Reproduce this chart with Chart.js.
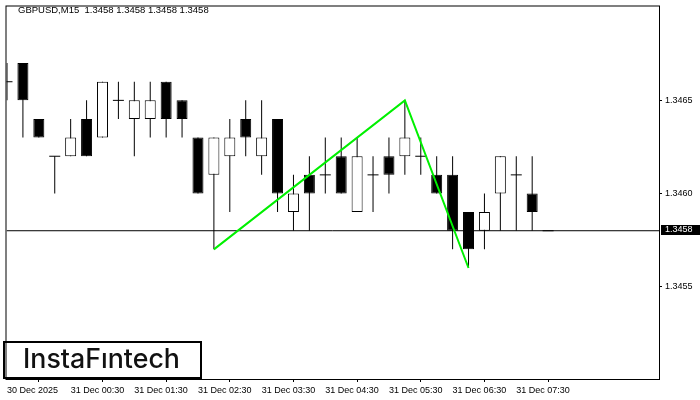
<!DOCTYPE html>
<html>
<head>
<meta charset="utf-8">
<title>GBPUSD M15</title>
<script src="https://cdn.jsdelivr.net/npm/chart.js@4.4.1/dist/chart.umd.min.js"></script>
<style>
  html, body { margin: 0; padding: 0; background: #fff; }
  #chart { display: block; }
</style>
</head>
<body>
<canvas id="chart" width="700" height="400"></canvas>
<script>
// 15 minute bars, bar 0 = 30 Dec 23:30
const symbol = "GBPUSD,M15";
const opens  = [1.3466, 1.3467, 1.3464, 1.3462, 1.3462, 1.3464, 1.3463, 1.3465, 1.3464, 1.3464, 1.3466, 1.3465,
                1.3463, 1.3461, 1.3462, 1.3464, 1.3462, 1.3464, 1.3459, 1.3461, 1.3461, 1.3462, 1.3459, 1.3461,
                1.3462, 1.3462, 1.3462, 1.3461, 1.3461, 1.3459, 1.3458, 1.3460, 1.3461, 1.3460, 1.3458];
const highs  = [1.3467, 1.3467, 1.3464, 1.3462, 1.3464, 1.3465, 1.3466, 1.3466, 1.3466, 1.3466, 1.3466, 1.3465,
                1.3463, 1.3463, 1.3464, 1.3465, 1.3465, 1.3464, 1.3461, 1.3462, 1.3463, 1.3463, 1.3463, 1.3462,
                1.3463, 1.3465, 1.3463, 1.3462, 1.3462, 1.3459, 1.3460, 1.3462, 1.3462, 1.3462, 1.3458];
const lows   = [1.3465, 1.3463, 1.3463, 1.3460, 1.3462, 1.3462, 1.3463, 1.3464, 1.3462, 1.3463, 1.3463, 1.3463,
                1.3460, 1.3457, 1.3459, 1.3462, 1.3461, 1.3459, 1.3458, 1.3458, 1.3460, 1.3460, 1.3459, 1.3459,
                1.3460, 1.3461, 1.3461, 1.3460, 1.3457, 1.3456, 1.3457, 1.3458, 1.3458, 1.3458, 1.3458];
const closes = [1.3466, 1.3465, 1.3463, 1.3462, 1.3463, 1.3462, 1.3466, 1.3465, 1.3465, 1.3465, 1.3464, 1.3464,
                1.3460, 1.3463, 1.3463, 1.3463, 1.3463, 1.3460, 1.3460, 1.3460, 1.3461, 1.3460, 1.3462, 1.3461,
                1.3461, 1.3463, 1.3462, 1.3460, 1.3458, 1.3457, 1.3459, 1.3462, 1.3461, 1.3459, 1.3458];

const xTickIndex  = [0, 4, 8, 12, 16, 20, 24, 28, 32];
const xTickLabels = ["30 Dec 2025", "31 Dec 00:30", "31 Dec 01:30", "31 Dec 02:30", "31 Dec 03:30",
                     "31 Dec 04:30", "31 Dec 05:30", "31 Dec 06:30", "31 Dec 07:30"];
const yTicks = [1.3455, 1.3460, 1.3465];
const lastPrice = 1.3458;

// double top pattern line: bar index and price of each corner
const patternIndex  = [13, 25, 29];
const patternPrices = [1.3457, 1.3465, 1.3456];

const xMin = -0.03125, xMax = 40.96875;
const yMin = 1.345004, yMax = 1.347004;

const FONT = '"Liberation Sans", Arial, sans-serif';
Chart.defaults.font.family = FONT;
Chart.defaults.font.size = 9;
Chart.defaults.color = '#000';

const bodies = [], bodyColors = [], wicks = [], dojis = [];
opens.forEach((o, i) => {
  const c = closes[i];
  if (highs[i] > lows[i]) wicks.push({ x: i, y: [lows[i], highs[i]] });
  if (o === c) {
    dojis.push({ x: i, y: c });
  } else {
    bodies.push({ x: i, y: [Math.min(o, c), Math.max(o, c)] });
    bodyColors.push(c > o ? '#fff' : '#000');
  }
});

// keep the plot frame where it is, no extra room for half labels
function noPadding(s) {
  s.paddingTop = 0; s.paddingBottom = 0; s.paddingLeft = 0; s.paddingRight = 0;
}

const overlay = {
  id: 'overlay',
  afterDraw(chart) {
    const ctx = chart.ctx;
    const area = chart.chartArea;
    const py = chart.scales.y.getPixelForValue(lastPrice);
    ctx.save();

    // logo
    ctx.fillStyle = '#fff';
    ctx.fillRect(3, 341, 199, 38);
    ctx.strokeStyle = '#000';
    ctx.lineWidth = 2;
    ctx.strokeRect(4, 342, 197, 36);
    let size = 25;
    ctx.font = `500 ${size}px Inter, Lato, sans-serif`;
    size = size * 157 / ctx.measureText('InstaFıntech').width;
    ctx.font = `500 ${size}px Inter, Lato, sans-serif`;
    ctx.fillStyle = '#111';
    ctx.textAlign = 'center';
    ctx.textBaseline = 'alphabetic';
    ctx.fillText('InstaFıntech', 101.5, 368);

    // frame
    ctx.lineWidth = 1;
    ctx.strokeRect(area.left - 0.5, area.top - 0.5, area.right - area.left + 1, area.bottom - area.top + 1);

    // header
    ctx.font = '9.5px ' + FONT;
    ctx.textAlign = 'left';
    ctx.textBaseline = 'middle';
    ctx.fillStyle = '#000';
    const p = lastPrice.toFixed(4);
    ctx.fillText(`${symbol}  ${p} ${p} ${p} ${p}`, 18, 10.5);

    // last price tag on the axis
    ctx.font = '9px ' + FONT;
    ctx.fillRect(area.right + 2, Math.round(py) - 6, 39, 10);
    ctx.fillStyle = '#fff';
    ctx.fillText(p, area.right + 6, Math.round(py) - 1);
    ctx.restore();
  }
};

new Chart(document.getElementById('chart'), {
  type: 'bar',
  data: {
    datasets: [
      {
        type: 'line', order: 0, data: patternIndex.map((x, i) => ({ x, y: patternPrices[i] })),
        borderColor: '#00f000', borderWidth: 2, pointRadius: 0, tension: 0
      },
      {
        type: 'line', order: 1, data: [{ x: xMin, y: lastPrice }, { x: xMax, y: lastPrice }],
        borderColor: '#000', borderWidth: 1, pointRadius: 0
      },
      {
        type: 'line', order: 2, data: dojis, showLine: false,
        pointStyle: 'line', pointRadius: 5.5, pointBorderWidth: 1, pointBorderColor: '#000'
      },
      {
        order: 3, data: bodies, backgroundColor: bodyColors, borderColor: '#000', borderWidth: 1,
        borderSkipped: false, barThickness: 11, grouped: false, inflateAmount: 0
      },
      {
        order: 4, data: wicks, backgroundColor: '#000', borderWidth: 0,
        barThickness: 1, grouped: false, inflateAmount: 0
      }
    ]
  },
  options: {
    responsive: false,
    devicePixelRatio: 1,
    animation: false,
    events: [],
    layout: { padding: { top: 3, left: 3, right: 0, bottom: 0 } },
    plugins: { legend: { display: false }, tooltip: { enabled: false } },
    scales: {
      x: {
        type: 'linear', min: xMin, max: xMax, offset: false,
        border: { display: false },
        grid: { drawOnChartArea: false, tickLength: 3, color: '#000' },
        ticks: {
          align: 'start', autoSkip: false, maxRotation: 0, minRotation: 0, padding: 3,
          callback: (v, i) => xTickLabels[i]
        },
        afterBuildTicks: s => { s.ticks = xTickIndex.map(v => ({ value: v })); },
        afterFit: s => { s.height = 21; noPadding(s); }
      },
      y: {
        type: 'linear', position: 'right', min: yMin, max: yMax,
        border: { display: false },
        grid: { drawOnChartArea: false, tickLength: 3, color: '#000' },
        ticks: { padding: 3, callback: v => v.toFixed(4) },
        afterBuildTicks: s => { s.ticks = yTicks.map(v => ({ value: v })); },
        afterFit: s => { s.width = 41; noPadding(s); }
      }
    }
  },
  plugins: [overlay]
});
</script>
</body>
</html>
